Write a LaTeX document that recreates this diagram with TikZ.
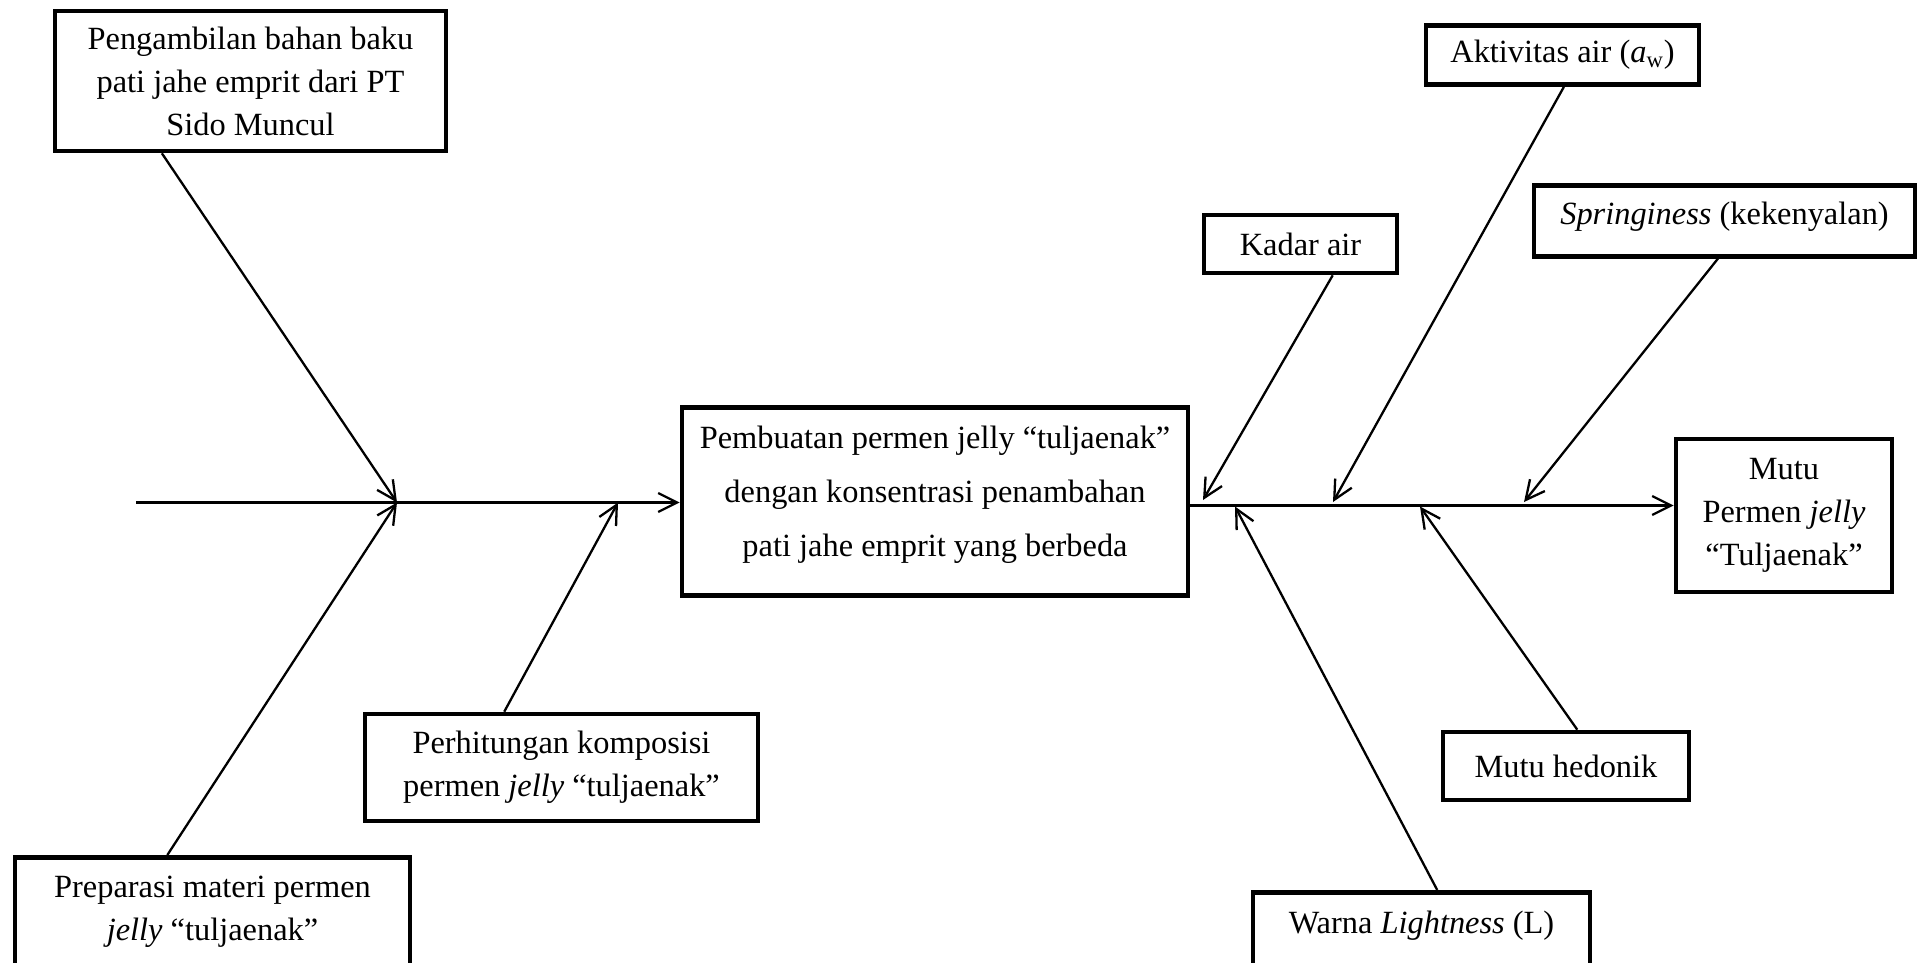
\documentclass[tikz,border=0pt]{standalone}
\usepackage{fontspec}
\setmainfont{Liberation Serif}
\usetikzlibrary{arrows.meta,calc}
\begin{document}
\begin{tikzpicture}[x=0.5pt,y=-0.5pt,
  every node/.style={font=\fontsize{16.2pt}{21.5pt}\selectfont},
  box/.style={draw, line width=2.3pt, inner sep=0pt, align=flush center},
  conn/.style={line width=1.15pt},
  arr/.style={conn, -{Straight Barb[length=9.5pt,width=9.5pt]}},
]
\useasboundingbox (0,0) rectangle (1926,963);
\clip (0,0) rectangle (1926,963);

% boxes
\node[box, minimum width=195.5pt, minimum height=70pt] (A) at (250.5,81)
  {Pengambilan bahan baku\\pati jahe emprit dari PT\\Sido Muncul};
\node[box, anchor=north, text width=197.5pt, text height=20pt, text depth=36.5pt] (B) at (212.5,855)
  {Preparasi materi permen\\\textit{jelly} “tuljaenak”};
\node[box, minimum width=196.5pt, minimum height=53.5pt] (C) at (561.5,767.5)
  {Perhitungan komposisi\\permen \textit{jelly} “tuljaenak”};
\node[box, anchor=north, text width=253pt, text height=20.5pt, text depth=73.5pt,
  font=\fontsize{16.2pt}{27pt}\selectfont] (D) at (935,405)
  {Pembuatan permen jelly “tuljaenak”\\dengan konsentrasi penambahan\\pati jahe emprit yang berbeda};
\node[box, minimum width=96.5pt, minimum height=29pt] (E) at (1300.5,244) {Kadar air};
\node[box, minimum width=136.5pt, minimum height=29.5pt] (F) at (1562.5,55)
  {Aktivitas air (\textit{a}\textsubscript{w})};
\node[box, anchor=north, text width=190.5pt, text height=19.5pt, text depth=16pt] (G) at (1724.5,183)
  {\textit{Springiness} (kekenyalan)};
\node[box, minimum width=108pt, minimum height=76.5pt] (H) at (1784,515.5)
  {Mutu\\Permen \textit{jelly}\\“Tuljaenak”};
\node[box, minimum width=123pt, minimum height=34pt] (I) at (1566,766) {Mutu hedonik};
\node[box, anchor=north, text width=168.5pt, text height=20.5pt, text depth=18.5pt] (J) at (1421.5,890)
  {Warna \textit{Lightness} (L)};

% spine coordinates
\coordinate (s0) at (136,502.5);
\coordinate (j1) at (397,502.5);
\coordinate (j2) at (618,502.5);
\coordinate (rsp) at (0,505.5);
\coordinate (k1) at (1203,500);
\coordinate (k2) at (1333,502);
\coordinate (k3) at (1524,502);
\coordinate (k4) at (1420,506.5);
\coordinate (k5) at (1235,506.5);

% spines
\draw[arr] (s0) -- (s0 -| D.west);
\draw[arr] (D.east |- rsp) -- (H.west |- rsp);

% left bones
\draw[arr] ($(A.south west)!0.276!(A.south east)$) -- (j1);
\draw[arr] ($(B.north west)!0.387!(B.north east)$) -- (j1);
\draw[arr] ($(C.north west)!0.356!(C.north east)$) -- (j2);

% right bones
\draw[arr] ($(E.south west)!0.663!(E.south east)$) -- (k1);
\draw[arr] ($(F.south west)!0.505!(F.south east)$) -- (k2);
\draw[arr] ($(G.south west)!0.483!(G.south east)$) -- (k3);
\draw[arr] ($(I.north west)!0.545!(I.north east)$) -- (k4);
\draw[arr] ($(J.north west)!0.546!(J.north east)$) -- (k5);
\end{tikzpicture}
\end{document}
